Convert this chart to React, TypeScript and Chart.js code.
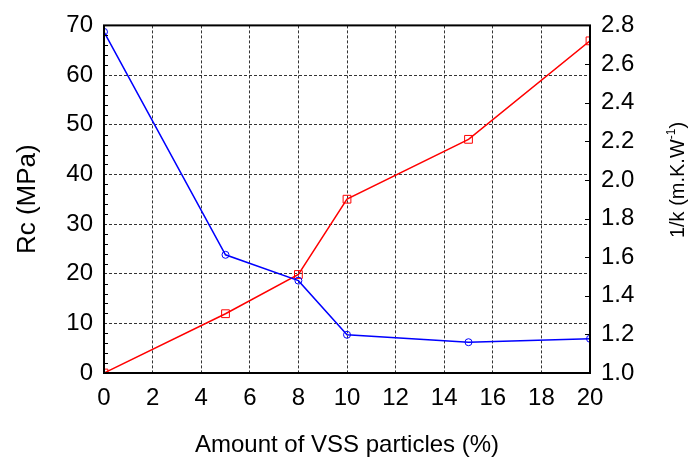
import React, { useEffect, useRef } from "react";
import { Chart, registerables } from "chart.js";

Chart.register(...registerables);

// ---- data ----
const amounts = [0, 5, 8, 10, 15, 20];
const rcValues = [68.7, 23.8, 18.6, 7.7, 6.2, 6.9];
const invKValues = [1.0, 1.307, 1.51, 1.9, 2.21, 2.72];

const xTitle = "Amount of VSS particles (%)";
const leftTitle = "Rc (MPa)";
const rightTitleMain = "1/k (m.K.W";
const rightTitleSup = "-1";
const rightTitleEnd = ")";

const FONT = "'Liberation Sans', Arial, Helvetica, sans-serif";

const framePlugin = {
  id: "frame",
  afterDraw(chart: any) {
    const { ctx, chartArea, scales } = chart;
    const { left, right, top, bottom } = chartArea;
    ctx.save();
    ctx.strokeStyle = "#000";
    ctx.lineWidth = 1;
    // minor ticks on left axis
    const ys = scales.y;
    for (let v = ys.min; v <= ys.max; v += 2) {
      if (v % 10 === 0) continue;
      const py = Math.round(ys.getPixelForValue(v)) + 0.5;
      ctx.beginPath();
      ctx.moveTo(left, py);
      ctx.lineTo(left + 4, py);
      ctx.stroke();
    }
    // inward ticks on right axis
    const y1 = scales.y1;
    y1.ticks.forEach((t: any) => {
      const py = Math.round(y1.getPixelForValue(t.value)) + 0.5;
      ctx.beginPath();
      ctx.moveTo(right - 5, py);
      ctx.lineTo(right, py);
      ctx.stroke();
    });
    // frame
    ctx.lineWidth = 2;
    ctx.strokeRect(left, top, right - left, bottom - top);

    // right axis title with superscript
    const mainFont = `20px ${FONT}`;
    const supFont = `12px ${FONT}`;
    ctx.font = mainFont;
    const wMain = ctx.measureText(rightTitleMain).width;
    const wEnd = ctx.measureText(rightTitleEnd).width;
    ctx.font = supFont;
    const wSup = ctx.measureText(rightTitleSup).width;
    const total = wMain + wSup + wEnd;
    const cx = 684;
    const cy = 180;
    ctx.translate(cx, cy);
    ctx.rotate(-Math.PI / 2);
    ctx.fillStyle = "#000";
    ctx.textBaseline = "alphabetic";
    ctx.textAlign = "left";
    let x = -total / 2;
    ctx.font = mainFont;
    ctx.fillText(rightTitleMain, x, 0);
    x += wMain;
    ctx.font = supFont;
    ctx.fillText(rightTitleSup, x, -9);
    x += wSup;
    ctx.font = mainFont;
    ctx.fillText(rightTitleEnd, x, 0);
    ctx.restore();
  },
};

export default function App() {
  const canvasRef = useRef<HTMLCanvasElement | null>(null);

  useEffect(() => {
    const canvas = canvasRef.current;
    if (!canvas) return;
    const chart = new Chart(canvas, {
      type: "line",
      data: {
        datasets: [
          {
            label: leftTitle,
            data: amounts.map((a, i) => ({ x: a, y: rcValues[i] })),
            yAxisID: "y",
            borderColor: "#0000ff",
            borderWidth: 1.5,
            pointStyle: "circle",
            pointRadius: 3.5,
            pointBorderWidth: 1,
            pointBorderColor: "#0000ff",
            pointBackgroundColor: "rgba(0,0,0,0)",
            tension: 0,
          },
          {
            label: "1/k",
            data: amounts.map((a, i) => ({ x: a, y: invKValues[i] })),
            yAxisID: "y1",
            borderColor: "#ff0000",
            borderWidth: 1.5,
            pointStyle: "rect",
            pointRadius: 5.5,
            pointBorderWidth: 1,
            pointBorderColor: "#ff0000",
            pointBackgroundColor: "rgba(0,0,0,0)",
            tension: 0,
          },
        ],
      },
      options: {
        animation: false,
        responsive: false,
        maintainAspectRatio: false,
        layout: { padding: { top: 20, left: 0, right: 0, bottom: 0 } },
        plugins: {
          legend: { display: false },
          tooltip: { enabled: false },
        },
        scales: {
          x: {
            type: "linear",
            min: 0,
            max: 20,
            ticks: {
              stepSize: 2,
              color: "#000",
              font: { family: FONT, size: 24 },
              padding: 11,
              maxRotation: 0,
            },
            grid: { color: "#333", lineWidth: 1, drawTicks: false },
            border: { display: false, dash: [3, 2] },
            title: {
              display: true,
              text: xTitle,
              color: "#000",
              font: { family: FONT, size: 24 },
              padding: { top: 0, bottom: 1 },
            },
            afterFit: (s: any) => {
              s.height = 88;
            },
          },
          y: {
            type: "linear",
            position: "left",
            min: 0,
            max: 70,
            ticks: {
              stepSize: 10,
              color: "#000",
              font: { family: FONT, size: 24 },
              padding: 11,
            },
            grid: { color: "#333", lineWidth: 1, drawTicks: false },
            border: { display: false, dash: [3, 2] },
            title: {
              display: true,
              text: leftTitle,
              color: "#000",
              font: { family: FONT, size: 26 },
              padding: { top: 12, bottom: 0 },
            },
            afterFit: (s: any) => {
              s.width = 104;
            },
          },
          y1: {
            type: "linear",
            position: "right",
            min: 1.0,
            max: 2.8,
            ticks: {
              stepSize: 0.2,
              color: "#000",
              font: { family: FONT, size: 24 },
              padding: 11,
              callback: (v: any) => Number(v).toFixed(1),
            },
            grid: { display: false, drawTicks: false },
            border: { display: false },
            afterFit: (s: any) => {
              s.width = 108;
            },
          },
        },
      },
      plugins: [framePlugin],
    });
    return () => chart.destroy();
  }, []);

  return (
    <div style={{ position: "absolute", left: 0, top: 0, width: 698, height: 461, background: "#fff" }}>
      <canvas ref={canvasRef} width={698} height={461} style={{ display: "block" }} />
    </div>
  );
}
